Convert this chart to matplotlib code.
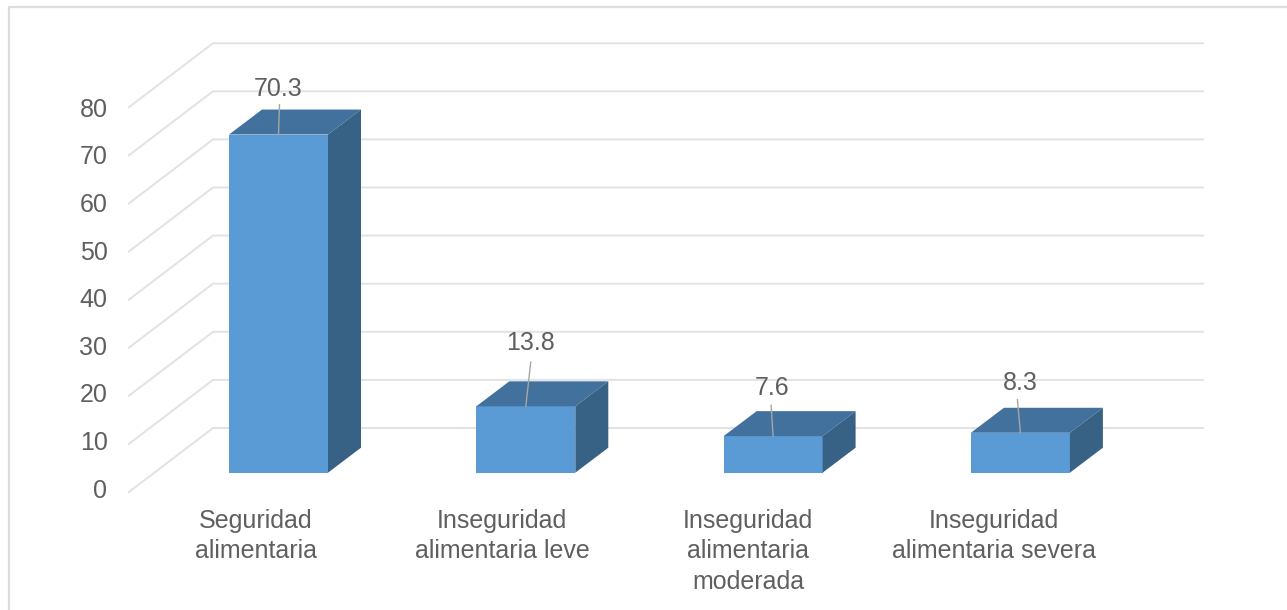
import matplotlib

matplotlib.use("Agg")
import matplotlib.pyplot as plt
from matplotlib.patches import Polygon

# datos
categories = [
    "Seguridad\nalimentaria",
    "Inseguridad\nalimentaria leve",
    "Inseguridad\nalimentaria\nmoderada",
    "Inseguridad\nalimentaria severa",
]
values = [70.3, 13.8, 7.6, 8.3]
value_labels = ["70.3", "13.8", "7.6", "8.3"]
y_ticks = [0, 10, 20, 30, 40, 50, 60, 70, 80]

# escala: px por categoria / por unidad
W, H = 1287, 610
PX_X = 247.3
PX_Y = 4.81
X0, Y0 = 278.5, 472.7

FRONT = "#5b9bd5"
TOP = "#41719c"
SIDE = "#376285"
GRID = "#e2e2e2"
TEXT = "#5f5f5f"
FONT = 18

plt.rcParams["font.family"] = ["Liberation Sans", "DejaVu Sans"]

fig = plt.figure(figsize=(W / 100, H / 100), dpi=100)
ax = fig.add_axes([0, 0, 1, 1])
ax.set_xlim(-X0 / PX_X, (W - X0) / PX_X)
ax.set_ylim(-(H - Y0) / PX_Y, Y0 / PX_Y)
ax.axis("off")

# marco del grafico (sin lado derecho)
ax.plot(
    [(9 - X0) / PX_X, (9 - X0) / PX_X, (W - X0) / PX_X],
    [-(H - Y0) / PX_Y, (Y0 - 7) / PX_Y, (Y0 - 7) / PX_Y],
    color="#dcdcdc",
    lw=1.6,
)

# pared y piso
wall_x0 = (128 - X0) / PX_X
wall_x1 = (213 - X0) / PX_X
wall_x2 = (1204 - X0) / PX_X
wall_base_front = -20 / PX_Y
wall_base_back = 44.7 / PX_Y
for t in y_ticks:
    ax.plot(
        [wall_x0, wall_x1, wall_x2],
        [wall_base_front + t, wall_base_back + t, wall_base_back + t],
        color=GRID,
        lw=1.4,
        zorder=1,
        solid_joinstyle="miter",
        solid_capstyle="butt",
    )
    # las etiquetas del eje van un poco mas juntas que la rejilla
    ax.text(
        (107.5 - X0) / PX_X,
        (-18 + t * 4.76) / PX_Y,
        str(t),
        ha="right",
        va="center",
        fontsize=FONT,
        color=TEXT,
    )

# barras 3d
half = 49.5 / PX_X
dx = 33 / PX_X
dy = 25 / PX_Y
label_lift = [9.4, 13.1, 10.1, 10.3]
label_shift = [-0.002, 0.02, -0.004, 0.0]
lead_end = [6.2, 9.2, 6.4, 6.9]
lead_shift = [0.004, 0.02, -0.008, -0.012]
for i, v in enumerate(values):
    l, r = i - half, i + half
    ax.add_patch(Polygon([(l, 0), (r, 0), (r, v), (l, v)], color=FRONT, lw=0, zorder=3))
    ax.add_patch(Polygon([(l, v), (r, v), (r + dx, v + dy), (l + dx, v + dy)], color=TOP, lw=0, zorder=3))
    ax.add_patch(Polygon([(r, 0), (r + dx, dy), (r + dx, v + dy), (r, v)], color=SIDE, lw=0, zorder=3))
    ax.plot([i, i + lead_shift[i]], [v, v + lead_end[i]], color="#a6a6a6", lw=1, zorder=4)
    ax.text(
        i + label_shift[i],
        v + label_lift[i],
        value_labels[i],
        ha="center",
        va="center",
        fontsize=FONT,
        color=TEXT,
        zorder=5,
    )
    ax.text(
        i * 246 / 247.3 - 22.5 / PX_X,
        -36.5 / PX_Y,
        categories[i],
        ha="center",
        va="top",
        fontsize=FONT,
        color=TEXT,
        linespacing=1.33,
    )

fig.savefig("out.png", dpi=100)
plt.close(fig)
